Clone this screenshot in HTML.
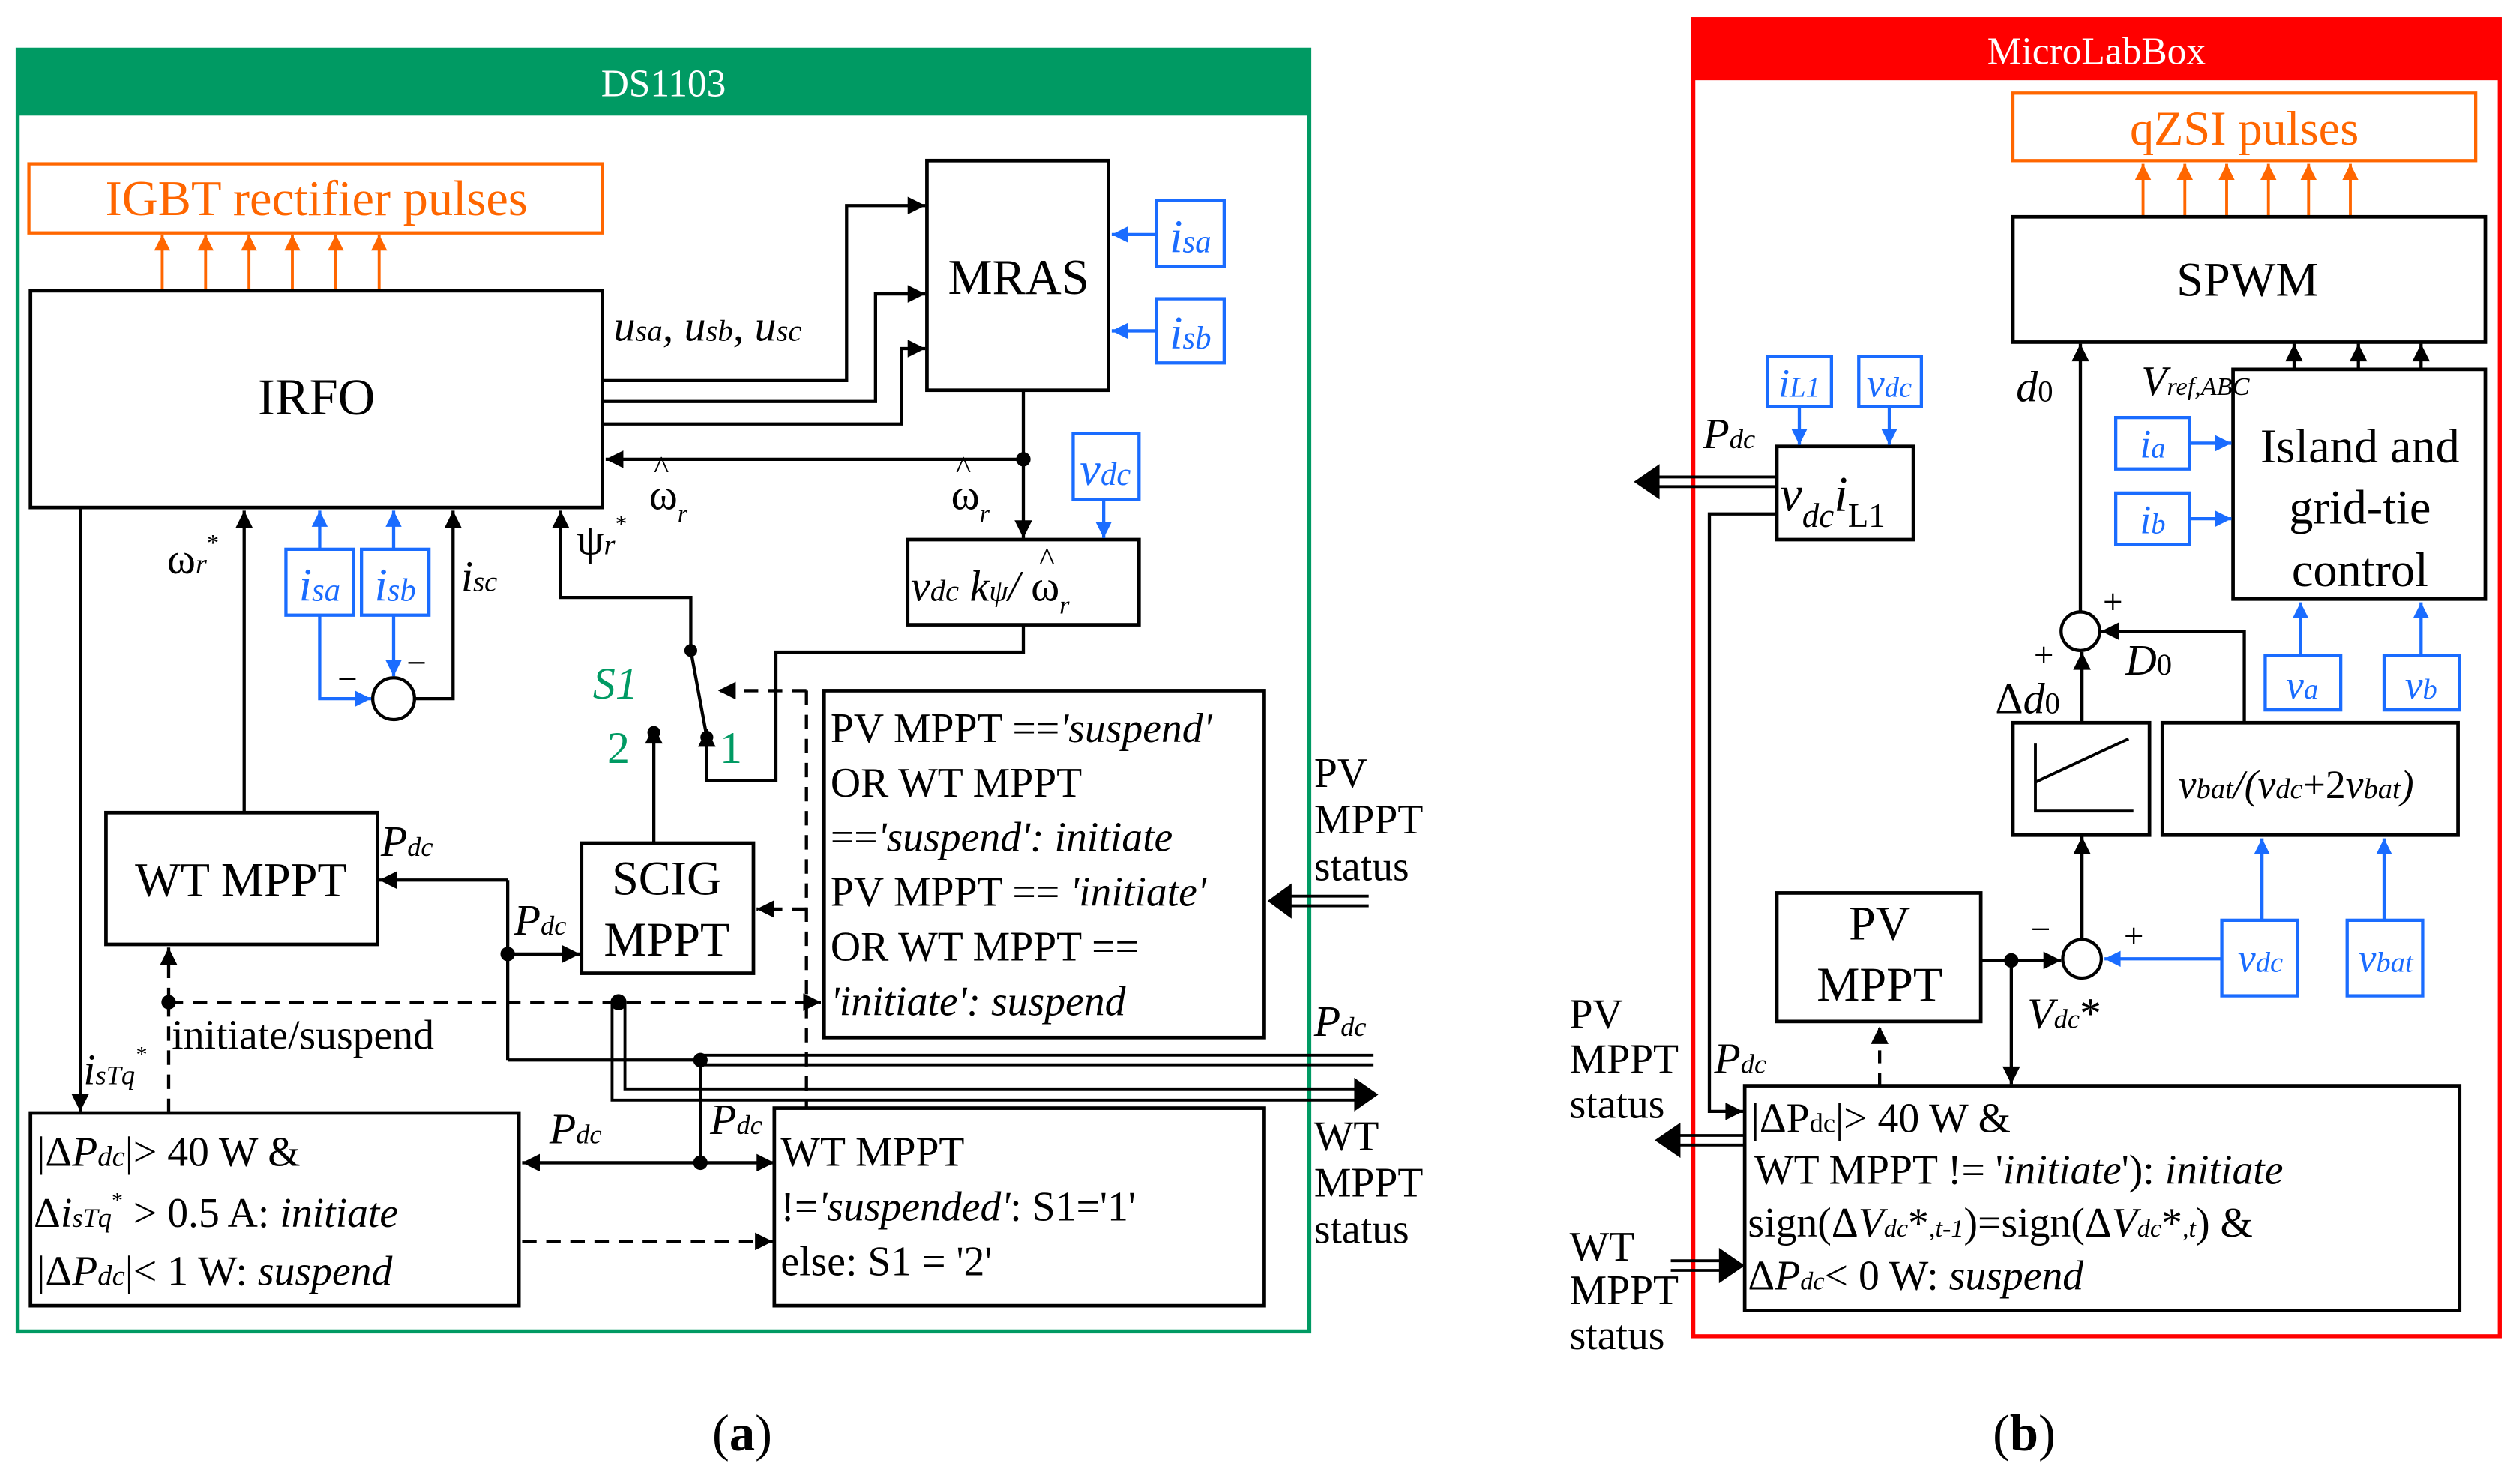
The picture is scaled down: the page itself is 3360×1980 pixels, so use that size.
<!DOCTYPE html>
<html><head><meta charset="utf-8"><style>html,body{margin:0;padding:0;background:#fff}svg{display:block}</style></head>
<body>
<svg width="3360" height="1980" viewBox="0 0 1568 924" xmlns="http://www.w3.org/2000/svg" font-family="'Liberation Serif', serif">
<defs>
<marker id="ak" viewBox="0 0 10 10" refX="10" refY="5" markerWidth="13" markerHeight="11" markerUnits="userSpaceOnUse" orient="auto"><path d="M0,0L10,5L0,10z" fill="#000"/></marker>
<marker id="ab" viewBox="0 0 10 10" refX="10" refY="5" markerWidth="12" markerHeight="10" markerUnits="userSpaceOnUse" orient="auto"><path d="M0,0L10,5L0,10z" fill="#1a6cff"/></marker>
<marker id="ao" viewBox="0 0 10 10" refX="10" refY="5" markerWidth="12" markerHeight="10" markerUnits="userSpaceOnUse" orient="auto"><path d="M0,0L10,5L0,10z" fill="#ff6600"/></marker>
<marker id="as" viewBox="0 0 10 10" refX="0" refY="5" markerWidth="13" markerHeight="11" markerUnits="userSpaceOnUse" orient="auto"><path d="M10,0L0,5L10,10z" fill="#000"/></marker>
</defs>

<!-- ===== Panel (a) ===== -->
<rect x="11" y="31" width="804" height="798" fill="none" stroke="#009a63" stroke-width="2.5"/>
<rect x="11" y="31" width="804" height="41" fill="#009a63"/>
<text x="413" y="60" font-size="24" fill="#fff" text-anchor="middle">DS1103</text>

<rect x="18" y="102" width="357" height="43" fill="none" stroke="#ff6600" stroke-width="2"/>
<text x="197" y="134" font-size="31" fill="#ff6600" text-anchor="middle">IGBT rectifier pulses</text>
<g stroke="#ff6600" stroke-width="1.8" marker-end="url(#ao)">
<line x1="101" y1="181" x2="101" y2="146"/><line x1="128" y1="181" x2="128" y2="146"/><line x1="155" y1="181" x2="155" y2="146"/>
<line x1="182" y1="181" x2="182" y2="146"/><line x1="209" y1="181" x2="209" y2="146"/><line x1="236" y1="181" x2="236" y2="146"/>
</g>

<g fill="none" stroke="#000" stroke-width="2.2">
<rect x="19" y="181" width="356" height="135"/>
<rect x="577" y="100" width="113" height="143"/>
<rect x="565" y="336" width="144" height="53"/>
<rect x="66" y="506" width="169" height="82"/>
<rect x="362" y="525" width="107" height="81"/>
<rect x="513" y="430" width="274" height="216"/>
<rect x="19" y="693" width="304" height="120"/>
<rect x="482" y="690" width="305" height="123"/>
</g>
<text x="197" y="258" font-size="32" text-anchor="middle">IRFO</text>
<text x="634" y="183" font-size="31" text-anchor="middle">MRAS</text>

<g fill="none" stroke="#1a6cff" stroke-width="2">
<rect x="720" y="125" width="42" height="41"/><rect x="720" y="186" width="42" height="40"/>
<rect x="668" y="270" width="41" height="41"/>
<rect x="178" y="342" width="42" height="41"/><rect x="225" y="342" width="42" height="41"/>
</g>
<g font-size="29" fill="#1a6cff" font-style="italic" text-anchor="middle">
<text x="741" y="157">i<tspan font-size="20">sa</tspan></text>
<text x="741" y="217">i<tspan font-size="20">sb</tspan></text>
<text x="688" y="302">v<tspan font-size="20">dc</tspan></text>
<text x="199" y="374">i<tspan font-size="20">sa</tspan></text>
<text x="246" y="374">i<tspan font-size="20">sb</tspan></text>
</g>
<g stroke="#1a6cff" stroke-width="2" fill="none" marker-end="url(#ab)">
<line x1="720" y1="146" x2="692" y2="146"/><line x1="720" y1="206" x2="692" y2="206"/>
<line x1="687" y1="311" x2="687" y2="335"/>
<line x1="199" y1="342" x2="199" y2="318"/><line x1="245" y1="342" x2="245" y2="318"/>
<polyline points="199,383 199,435 231,435"/>
<line x1="245" y1="383" x2="245" y2="421"/>
</g>
<circle cx="245" cy="435" r="13" fill="none" stroke="#000" stroke-width="2"/>
<text x="210" y="430" font-size="22">−</text><text x="253" y="420" font-size="22">−</text>

<g stroke="#000" stroke-width="2" fill="none" marker-end="url(#ak)">
<polyline points="375,237 527,237 527,128 576,128"/>
<polyline points="375,250 545,250 545,183 576,183"/>
<polyline points="375,264 561,264 561,217 576,217"/>
<polyline points="637,286 377,286"/>
<line x1="637" y1="243" x2="637" y2="335"/>
<polyline points="258,435 282,435 282,318"/>
<line x1="152" y1="505" x2="152" y2="318"/>
<polyline points="430,405 430,372 349,372 349,318"/>
<line x1="50" y1="316" x2="50" y2="692"/>
<line x1="407" y1="525" x2="407" y2="452"/>
<polyline points="637,389 637,406 483,406 483,486 440,486 440,454"/>
<polyline points="316,548 236,548"/>
<line x1="316" y1="594" x2="361" y2="594"/>
</g>
<circle cx="637" cy="286" r="4.5"/>
<circle cx="430" cy="405" r="4"/><circle cx="407" cy="456" r="4"/><circle cx="440" cy="459" r="4"/>
<line x1="430" y1="405" x2="440" y2="459" stroke="#000" stroke-width="2"/>
<line x1="316" y1="548" x2="316" y2="660" stroke="#000" stroke-width="2"/>
<circle cx="316" cy="594" r="4.5"/>
<line x1="316" y1="660" x2="436" y2="660" stroke="#000" stroke-width="2"/>
<line x1="436" y1="657" x2="855" y2="657" stroke="#000" stroke-width="1.8"/>
<line x1="436" y1="663" x2="855" y2="663" stroke="#000" stroke-width="1.8"/>
<circle cx="436" cy="660" r="4.5"/>
<line x1="436" y1="660" x2="436" y2="724" stroke="#000" stroke-width="2"/>
<line x1="325" y1="724" x2="482" y2="724" stroke="#000" stroke-width="2" marker-start="url(#as)" marker-end="url(#ak)"/>
<circle cx="436" cy="724" r="4.5"/>
<polyline points="381,624 381,685 845,685" fill="none" stroke="#000" stroke-width="1.8"/>
<polyline points="389,624 389,678 845,678" fill="none" stroke="#000" stroke-width="1.8"/>
<path d="M843,671L858,681.5L843,692z"/>
<circle cx="385" cy="624" r="5"/>
<line x1="800" y1="558" x2="852" y2="558" stroke="#000" stroke-width="1.8"/>
<line x1="800" y1="564" x2="852" y2="564" stroke="#000" stroke-width="1.8"/>
<path d="M804,550L789,561L804,572z"/>
<g stroke="#000" stroke-width="2" fill="none" stroke-dasharray="9,6">
<line x1="105" y1="624" x2="511" y2="624" marker-end="url(#ak)"/>
<line x1="105" y1="624" x2="105" y2="590" marker-end="url(#ak)"/>
<line x1="105" y1="624" x2="105" y2="692"/>
<line x1="325" y1="773" x2="481" y2="773" marker-end="url(#ak)"/>
<line x1="502" y1="430" x2="447" y2="430" marker-end="url(#ak)"/>
<line x1="502" y1="430" x2="502" y2="690"/>
<line x1="502" y1="566" x2="471" y2="566" marker-end="url(#ak)"/>
</g>
<circle cx="105" cy="624" r="4.5"/>

<g font-size="27" font-style="italic">
<text x="382" y="212">u<tspan font-size="19">sa</tspan>, u<tspan font-size="19">sb</tspan>, u<tspan font-size="19">sc</tspan></text>
<text x="404" y="317" font-style="normal">ω<tspan font-size="16" dy="8" font-style="italic">r</tspan></text>
<text x="407" y="298" font-size="20" font-style="normal">^</text>
<text x="592" y="317" font-style="normal">ω<tspan font-size="16" dy="8" font-style="italic">r</tspan></text>
<text x="595" y="298" font-size="20" font-style="normal">^</text>
<text x="567" y="374">v<tspan font-size="19">dc</tspan> k<tspan font-size="19">ψ</tspan>/ <tspan font-style="normal">ω</tspan><tspan font-size="16" dy="8">r</tspan></text>
<text x="647" y="355" font-size="20" font-style="normal">^</text>
<text x="104" y="357" font-style="normal">ω<tspan font-size="18" font-style="italic">r</tspan><tspan font-size="15" dy="-14">*</tspan></text>
<text x="359" y="345" font-style="normal">ψ<tspan font-size="18" font-style="italic">r</tspan><tspan font-size="15" dy="-14">*</tspan></text>
<text x="287" y="368">i<tspan font-size="18">sc</tspan></text>
<text x="237" y="533">P<tspan font-size="17">dc</tspan></text>
<text x="320" y="582">P<tspan font-size="17">dc</tspan></text>
<text x="342" y="712">P<tspan font-size="17">dc</tspan></text>
<text x="442" y="706">P<tspan font-size="17">dc</tspan></text>
<text x="818" y="645">P<tspan font-size="17">dc</tspan></text>
<text x="52" y="675">i<tspan font-size="17">sTq</tspan><tspan font-size="14" dy="-14">*</tspan></text>
</g>
<g font-size="28" fill="#009a63">
<text x="369" y="435" font-style="italic">S1</text>
<text x="378" y="475">2</text>
<text x="448" y="475">1</text>
</g>
<text x="150" y="558" font-size="30" text-anchor="middle">WT MPPT</text>
<text x="415" y="557" font-size="30" text-anchor="middle">SCIG</text>
<text x="415" y="595" font-size="30" text-anchor="middle">MPPT</text>
<text x="107" y="653" font-size="26">initiate/suspend</text>
<g font-size="26">
<text x="517" y="462">PV MPPT ==<tspan font-style="italic">'suspend'</tspan></text>
<text x="517" y="496">OR WT MPPT</text>
<text x="517" y="530">==<tspan font-style="italic">'suspend': initiate</tspan></text>
<text x="517" y="564">PV MPPT == <tspan font-style="italic">'initiate'</tspan></text>
<text x="517" y="598">OR WT MPPT ==</text>
<text x="517" y="632" font-style="italic">'initiate': suspend</text>
<text x="818" y="490">PV</text><text x="818" y="519">MPPT</text><text x="818" y="548">status</text>
<text x="818" y="716">WT</text><text x="818" y="745">MPPT</text><text x="818" y="774">status</text>
<text x="23" y="726">|Δ<tspan font-style="italic">P</tspan><tspan font-size="18" font-style="italic">dc</tspan>|&gt; 40 W &amp;</text>
<text x="21" y="764">Δ<tspan font-style="italic">i</tspan><tspan font-size="17" font-style="italic">sTq</tspan><tspan font-size="14" dy="-12">*</tspan><tspan dy="12"> &gt; 0.5 A: </tspan><tspan font-style="italic">initiate</tspan></text>
<text x="23" y="800">|Δ<tspan font-style="italic">P</tspan><tspan font-size="18" font-style="italic">dc</tspan>|&lt; 1 W: <tspan font-style="italic">suspend</tspan></text>
<text x="486" y="726">WT MPPT</text>
<text x="486" y="760">!=<tspan font-style="italic">'suspended'</tspan>: S1='1'</text>
<text x="486" y="794">else: S1 = '2'</text>
</g>
<text x="462" y="903" font-size="32" text-anchor="middle">(<tspan font-weight="bold">a</tspan>)</text>

<!-- ===== Panel (b) ===== -->
<rect x="1054" y="12" width="502" height="820" fill="none" stroke="#ff0000" stroke-width="2.5"/>
<rect x="1054" y="12" width="502" height="38" fill="#ff0000"/>
<text x="1305" y="40" font-size="24" fill="#fff" text-anchor="middle">MicroLabBox</text>
<rect x="1253" y="58" width="288" height="42" fill="none" stroke="#ff6600" stroke-width="2"/>
<text x="1397" y="90" font-size="30" fill="#ff6600" text-anchor="middle">qZSI pulses</text>
<g stroke="#ff6600" stroke-width="1.8" marker-end="url(#ao)">
<line x1="1334" y1="135" x2="1334" y2="102"/><line x1="1360" y1="135" x2="1360" y2="102"/><line x1="1386" y1="135" x2="1386" y2="102"/>
<line x1="1412" y1="135" x2="1412" y2="102"/><line x1="1437" y1="135" x2="1437" y2="102"/><line x1="1463" y1="135" x2="1463" y2="102"/>
</g>
<g fill="none" stroke="#000" stroke-width="2.2">
<rect x="1253" y="135" width="294" height="78"/>
<rect x="1390" y="230" width="157" height="143"/>
<rect x="1253" y="450" width="85" height="70"/>
<rect x="1346" y="450" width="184" height="70"/>
<rect x="1106" y="556" width="127" height="80"/>
<rect x="1106" y="278" width="85" height="58"/>
<rect x="1086" y="676" width="445" height="140"/>
</g>
<polyline points="1267,463 1267,505 1328,505" fill="none" stroke="#000" stroke-width="1.8"/>
<line x1="1267" y1="487" x2="1325" y2="460" stroke="#000" stroke-width="1.8"/>
<text x="1399" y="184" font-size="30" text-anchor="middle">SPWM</text>
<g font-size="30" text-anchor="middle">
<text x="1469" y="288">Island and</text><text x="1469" y="326">grid-tie</text><text x="1469" y="365">control</text>
<text x="1170" y="585">PV</text><text x="1170" y="623">MPPT</text>
</g>
<g fill="none" stroke="#1a6cff" stroke-width="2">
<rect x="1317" y="260" width="46" height="32"/><rect x="1317" y="307" width="46" height="32"/>
<rect x="1410" y="408" width="47" height="34"/><rect x="1484" y="408" width="47" height="34"/>
<rect x="1383" y="573" width="47" height="47"/><rect x="1461" y="573" width="47" height="47"/>
<rect x="1100" y="222" width="40" height="31"/><rect x="1157" y="222" width="39" height="31"/>
</g>
<g font-size="25" fill="#1a6cff" font-style="italic" text-anchor="middle">
<text x="1340" y="285">i<tspan font-size="18">a</tspan></text>
<text x="1340" y="332">i<tspan font-size="18">b</tspan></text>
<text x="1433" y="435">v<tspan font-size="18">a</tspan></text>
<text x="1507" y="435">v<tspan font-size="18">b</tspan></text>
<text x="1407" y="605">v<tspan font-size="18">dc</tspan></text>
<text x="1485" y="605">v<tspan font-size="18">bat</tspan></text>
<text x="1120" y="247">i<tspan font-size="18">L1</tspan></text>
<text x="1176" y="247">v<tspan font-size="18">dc</tspan></text>
</g>
<g stroke="#1a6cff" stroke-width="2" fill="none" marker-end="url(#ab)">
<line x1="1363" y1="276" x2="1389" y2="276"/><line x1="1363" y1="323" x2="1389" y2="323"/>
<line x1="1432" y1="408" x2="1432" y2="375"/><line x1="1507" y1="408" x2="1507" y2="375"/>
<line x1="1408" y1="573" x2="1408" y2="522"/><line x1="1484" y1="573" x2="1484" y2="522"/>
<line x1="1383" y1="597" x2="1310" y2="597"/>
<line x1="1120" y1="253" x2="1120" y2="277"/><line x1="1176" y1="253" x2="1176" y2="277"/>
</g>
<circle cx="1295" cy="393" r="12" fill="none" stroke="#000" stroke-width="2"/>
<circle cx="1296" cy="597" r="12" fill="none" stroke="#000" stroke-width="2"/>
<g stroke="#000" stroke-width="2" fill="none" marker-end="url(#ak)">
<line x1="1295" y1="381" x2="1295" y2="214"/>
<line x1="1428" y1="230" x2="1428" y2="214"/><line x1="1468" y1="230" x2="1468" y2="214"/><line x1="1507" y1="230" x2="1507" y2="214"/>
<polyline points="1397,450 1397,393 1308,393"/>
<line x1="1296" y1="450" x2="1296" y2="406"/>
<line x1="1296" y1="585" x2="1296" y2="521"/>
<line x1="1233" y1="598" x2="1283" y2="598"/>
<line x1="1252" y1="598" x2="1252" y2="675"/>
<polyline points="1106,320 1064,320 1064,692 1085,692"/>
</g>
<circle cx="1252" cy="598" r="4.5"/>
<line x1="1170" y1="676" x2="1170" y2="639" stroke="#000" stroke-width="2" stroke-dasharray="8,6" marker-end="url(#ak)"/>
<line x1="1032" y1="297" x2="1106" y2="297" stroke="#000" stroke-width="1.8"/>
<line x1="1032" y1="303" x2="1106" y2="303" stroke="#000" stroke-width="1.8"/>
<path d="M1033,289L1017,300L1033,311z"/>
<line x1="1045" y1="707" x2="1086" y2="707" stroke="#000" stroke-width="1.8"/>
<line x1="1045" y1="713" x2="1086" y2="713" stroke="#000" stroke-width="1.8"/>
<path d="M1046,699L1030,710L1046,721z"/>
<line x1="1040" y1="785" x2="1072" y2="785" stroke="#000" stroke-width="1.8"/>
<line x1="1040" y1="791" x2="1072" y2="791" stroke="#000" stroke-width="1.8"/>
<path d="M1070,777L1086,788L1070,799z"/>

<g font-size="27" font-style="italic">
<text x="1255" y="250">d<tspan font-size="19" font-style="normal">0</tspan></text>
<text x="1333" y="246" font-size="26">V<tspan font-size="16">ref,ABC</tspan></text>
<text x="1323" y="420">D<tspan font-size="19" font-style="normal">0</tspan></text>
<text x="1242" y="444"><tspan font-style="normal">Δ</tspan>d<tspan font-size="19" font-style="normal">0</tspan></text>
<text x="1262" y="640">V<tspan font-size="17">dc</tspan><tspan font-style="normal">*</tspan></text>
<text x="1060" y="279">P<tspan font-size="17">dc</tspan></text>
<text x="1067" y="668">P<tspan font-size="17">dc</tspan></text>
<text x="1356" y="497" font-size="25">v<tspan font-size="18">bat</tspan>/(v<tspan font-size="18">dc</tspan><tspan font-style="normal">+2</tspan>v<tspan font-size="18">bat</tspan>)</text>
<text x="1108" y="318" font-size="31">v<tspan font-size="21" dy="10">dc</tspan><tspan dy="-10">i</tspan><tspan font-size="21" dy="10" font-style="normal">L1</tspan></text>
</g>
<g font-size="22">
<text x="1309" y="382">+</text><text x="1266" y="415">+</text>
<text x="1264" y="586">−</text><text x="1322" y="590">+</text>
</g>
<g font-size="26">
<text x="977" y="640">PV</text><text x="977" y="668">MPPT</text><text x="977" y="696">status</text>
<text x="977" y="785">WT</text><text x="977" y="812">MPPT</text><text x="977" y="840">status</text>
<text x="1090" y="705">|ΔP<tspan font-size="17">dc</tspan>|&gt; 40 W &amp;</text>
<text x="1092" y="737">WT MPPT != '<tspan font-style="italic">initiate</tspan>'): <tspan font-style="italic">initiate</tspan></text>
<text x="1088" y="770">sign(Δ<tspan font-style="italic">V</tspan><tspan font-size="16" font-style="italic">dc</tspan>*<tspan font-size="16" font-style="italic">,t-1</tspan>)=sign(Δ<tspan font-style="italic">V</tspan><tspan font-size="16" font-style="italic">dc</tspan>*<tspan font-size="16" font-style="italic">,t</tspan>) &amp;</text>
<text x="1088" y="803">Δ<tspan font-style="italic">P</tspan><tspan font-size="16" font-style="italic">dc</tspan>&lt; 0 W: <tspan font-style="italic">suspend</tspan></text>
</g>
<text x="1260" y="903" font-size="32" text-anchor="middle">(<tspan font-weight="bold">b</tspan>)</text>
</svg>
</body></html>
